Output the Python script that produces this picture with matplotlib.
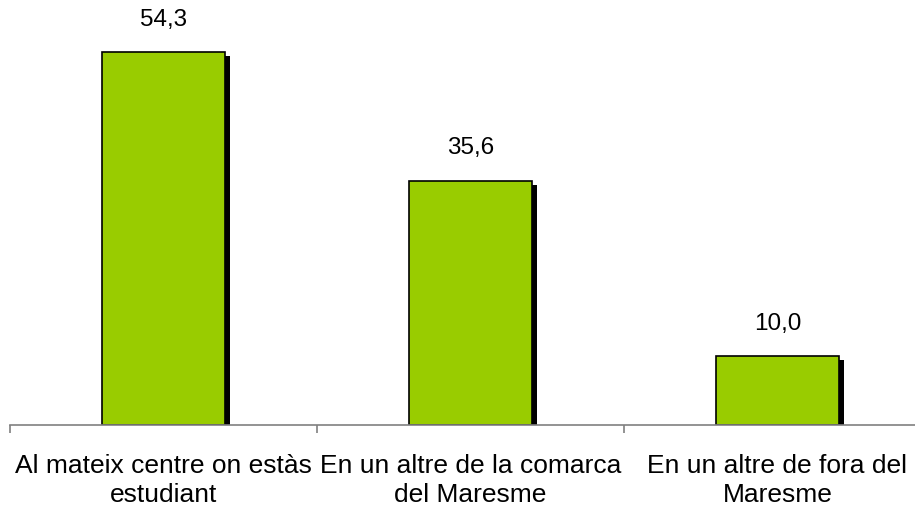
import numpy as np
import matplotlib.pyplot as plt

plt.rcParams['font.family'] = ['Liberation Sans', 'DejaVu Sans']

# --- data ---
categories = ['Al mateix centre on estàs\nestudiant',
              'En un altre de la comarca\ndel Maresme',
              'En un altre de fora del\nMaresme']
values = [54.3, 35.6, 10.0]
value_labels = ['54,3', '35,6', '10,0']

fig = plt.figure(figsize=(9.15, 5.07), dpi=100)
ax = fig.add_axes([10 / 915, 82 / 507, 921 / 915, 425 / 507])

x = np.arange(len(values))
w = 0.40

# shadow bars (black, shifted right and down)
ax.bar(x + 0.017, np.array(values) - 0.6, width=w, color='black', zorder=1)
# main bars
ax.bar(x, values, width=w, color='#99cc00', edgecolor='black', linewidth=1.2, zorder=2)

for xi, v, lab in zip(x, values, value_labels):
    ax.text(xi, v + 4.7, lab, ha='center', va='center', fontsize=17.5)

ax.set_xlim(-0.5, 2.5)
ax.set_ylim(0, 61.9)

for s in ['left', 'right', 'top']:
    ax.spines[s].set_visible(False)
ax.spines['bottom'].set_color('#808080')
ax.spines['bottom'].set_linewidth(1.2)
ax.set_yticks([])

ax.set_xticks([-0.5, 0.5, 1.5, 2.5])
ax.set_xticklabels([])
ax.tick_params(axis='x', which='major', direction='out', length=6, width=1.2, color='#808080')
ax.set_xticks(x, minor=True)
ax.set_xticklabels(categories, minor=True, fontsize=19, linespacing=1.28)
ax.tick_params(axis='x', which='minor', length=0, pad=21)

fig.savefig('out.png', dpi=100)
